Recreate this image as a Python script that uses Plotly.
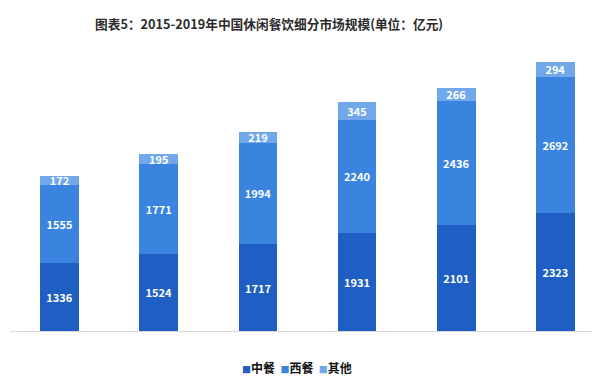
import plotly.graph_objects as go

years = ["2014", "2015", "2016", "2017", "2018", "2019"]
chinese = [1336, 1524, 1717, 1931, 2101, 2323]
western = [1555, 1771, 1994, 2240, 2436, 2692]
others = [172, 195, 219, 345, 266, 294]

series = [
    ("中餐", chinese, "#1f5fc4"),
    ("西餐", western, "#3a84e0"),
    ("其他", others, "#70a8ea"),
]

# page body has an 8px default margin: figure drawn 8px smaller so it fits the window
W, H = 592, 380

fig = go.Figure()
for name, vals, color in series:
    fig.add_trace(go.Bar(
        x=years, y=vals, name=name,
        marker=dict(color=color, line=dict(width=0)),
        width=0.39,
        text=[f"<b>{v}</b>" for v in vals],
        textposition="inside",
        insidetextanchor="middle",
        constraintext="none",
        textfont=dict(color="white", size=11, family="Noto Sans CJK SC"),
        hoverinfo="skip",
        showlegend=False,
    ))

legend_text = "  ".join(
    f"<span style='color:{c};font-size:9px'>■</span><b>{n}</b>" for n, _, c in series
)

fig.update_layout(
    barmode="stack",
    width=W, height=H,
    margin=dict(l=2, r=0, t=42, b=57),
    paper_bgcolor="white", plot_bgcolor="white",
    font=dict(family="Noto Sans CJK SC", color="#333333"),
    title=dict(
        text="<b>图表5：2015-2019年中国休闲餐饮细分市场规模(单位：亿元)</b>",
        x=260 / W, xanchor="center", xref="paper",
        y=1 - 17 / H, yanchor="middle",
        font=dict(size=12.7, color="#2b2b2b"),
    ),
    xaxis=dict(
        range=[-0.5, 5.45], showticklabels=False, ticks="",
        showline=True, linecolor="#d9d9d9", linewidth=1,
        showgrid=False, zeroline=False,
    ),
    yaxis=dict(
        range=[0, 5546], visible=False, showgrid=False, zeroline=False,
    ),
    annotations=[dict(
        text=legend_text, xref="paper", yref="paper",
        x=(289 - 2) / 590, y=-36 / 281, xanchor="center", yanchor="middle",
        showarrow=False, font=dict(size=12, color="#111111"),
    )],
    showlegend=False,
)

fig.write_html("out.html")
